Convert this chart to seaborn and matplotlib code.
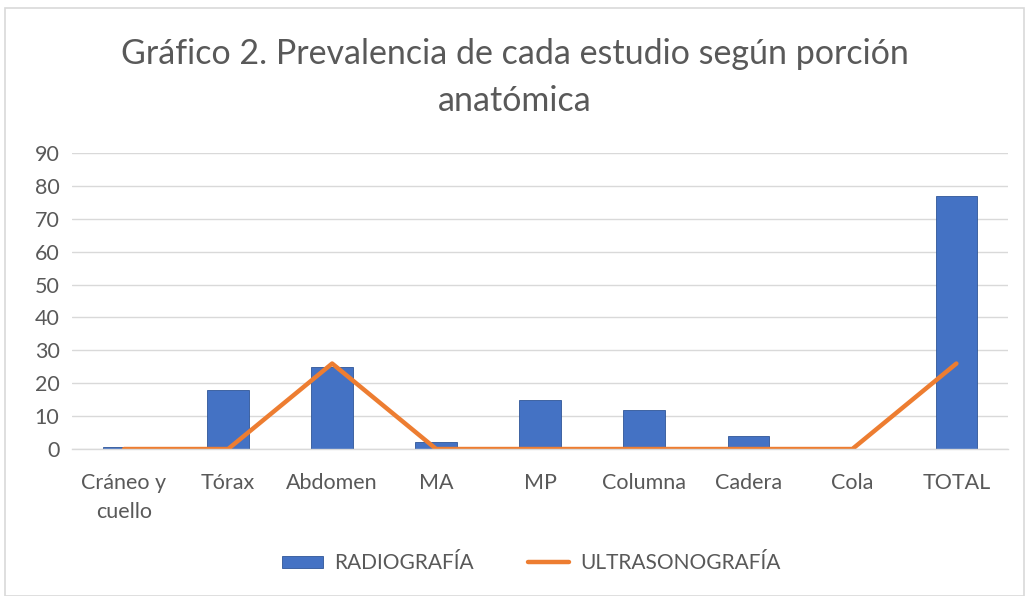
import matplotlib
matplotlib.use("Agg")
import matplotlib.pyplot as plt
import seaborn as sns
import numpy as np
from matplotlib.patches import Rectangle

categories = ["Cráneo y\ncuello", "Tórax", "Abdomen", "MA", "MP", "Columna", "Cadera", "Cola", "TOTAL"]
radiografia = [0.5, 18, 25, 2, 15, 12, 4, 0, 77]
ultrasonografia = [0, 0, 26, 0, 0, 0, 0, 0, 26]
yticks = [0, 10, 20, 30, 40, 50, 60, 70, 80, 90]
title = "Gráfico 2. Prevalencia de cada estudio según porción\nanatómica"

sns.set_theme(style="white")
plt.rcParams["font.family"] = ["Lato", "DejaVu Sans"]

fig = plt.figure(figsize=(10.29, 5.96), dpi=100)
ax = fig.add_axes([0.070, 0.2466, 0.910, 0.4966])

sns.barplot(x=categories, y=radiografia, color="#4472C4", saturation=1,
            width=0.4, ax=ax, label="RADIOGRAFÍA", edgecolor="#2F5597", linewidth=0.6)
sns.lineplot(x=np.arange(len(categories)), y=ultrasonografia, color="#ED7D31",
             linewidth=3.2, ax=ax, label="ULTRASONOGRAFÍA", solid_capstyle="round")

ax.set_ylim(0, 90)
ax.set_yticks(yticks)
ax.set_xlim(-0.5, len(categories) - 0.5)
ax.yaxis.grid(True, color="#D9D9D9", linewidth=1.0)
ax.set_axisbelow(True)
for s in ["top", "right", "left"]:
    ax.spines[s].set_visible(False)
ax.spines["bottom"].set_color("#D9D9D9")
ax.spines["bottom"].set_linewidth(1.0)
ax.tick_params(axis="both", length=0, labelsize=15.5, colors="#595959")
ax.tick_params(axis="y", pad=9)
ax.tick_params(axis="x", pad=17)
for lbl in ax.get_xticklabels():
    lbl.set_linespacing(1.6)
ax.set_xlabel("")
ax.set_ylabel("")

fig.suptitle(title, fontsize=24.5, color="#595959", y=0.937, linespacing=1.6)

handles, labels = ax.get_legend_handles_labels()
order = [labels.index("RADIOGRAFÍA"), labels.index("ULTRASONOGRAFÍA")]
ax.legend([handles[i] for i in order], [labels[i] for i in order], loc="center",
          bbox_to_anchor=(0.516, 0.055), bbox_transform=fig.transFigure, ncol=2,
          frameon=False, fontsize=15, labelcolor="#595959", handlelength=2.0,
          handleheight=0.55, columnspacing=2.6, handletextpad=0.5)

fig.patches.append(Rectangle((0.005, 0.0), 0.99, 0.986, transform=fig.transFigure,
                             fill=False, edgecolor="#D9D9D9", linewidth=1.2))

fig.savefig("out.png", dpi=100)
